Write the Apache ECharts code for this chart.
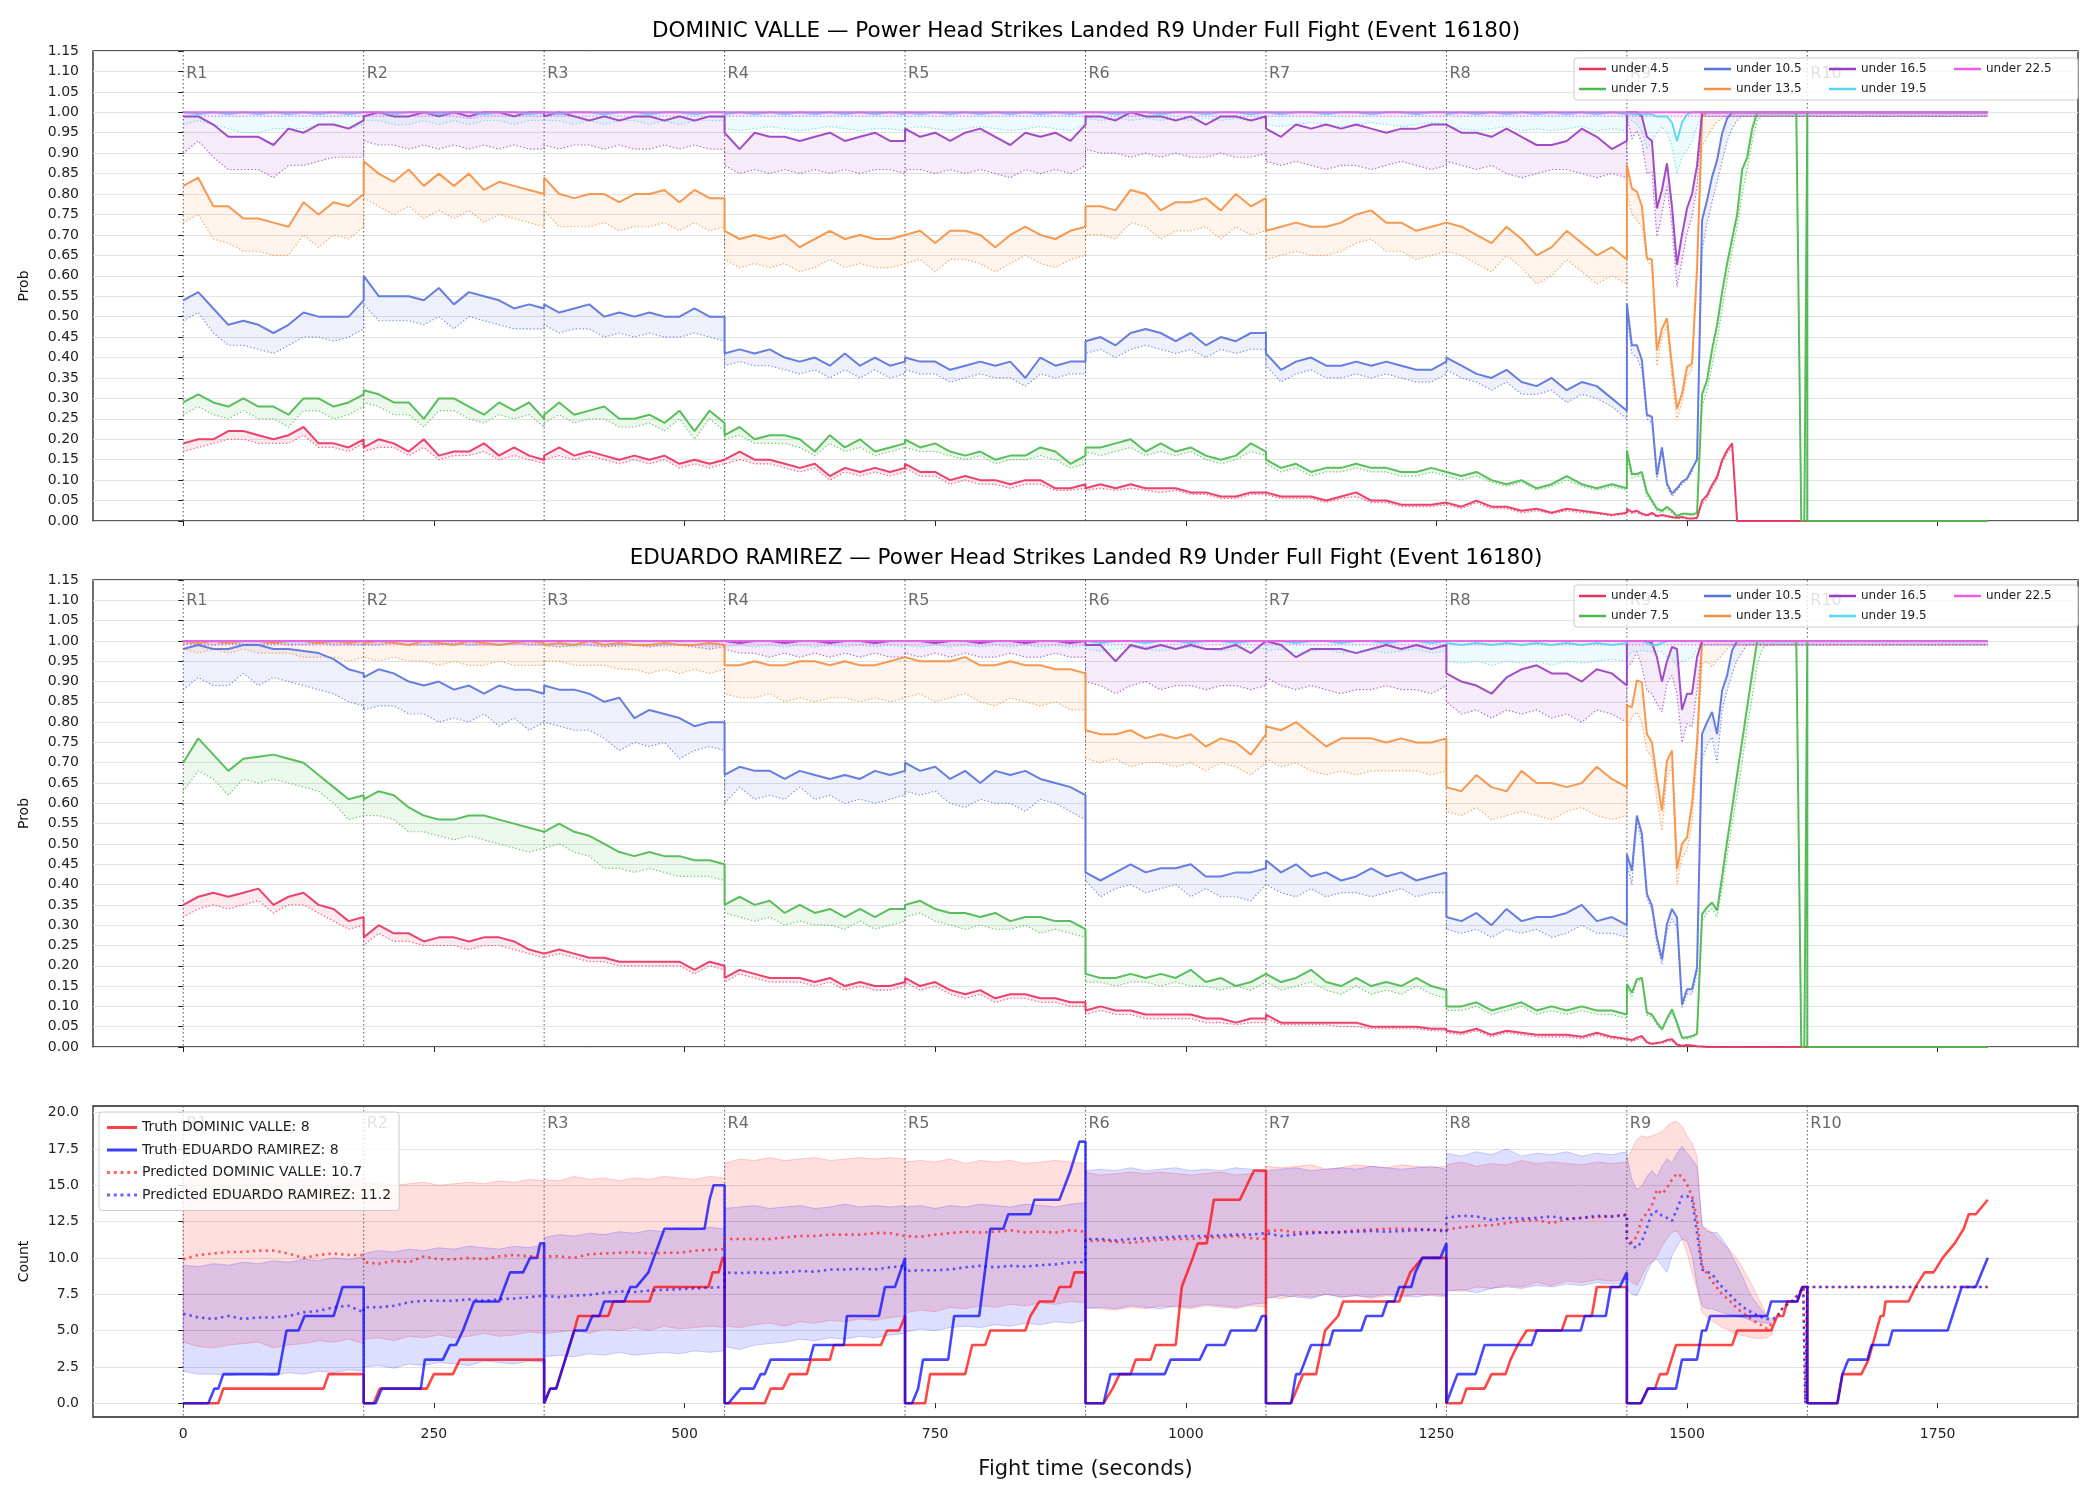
<!DOCTYPE html>
<html>
<head>
<meta charset="utf-8">
<title>Power Head Strikes Landed R9 Under Full Fight</title>
<script src="https://cdn.jsdelivr.net/npm/echarts@6.0.0/dist/echarts.min.js"></script>
<style>
  html, body { margin: 0; padding: 0; background: #fff; }
  #chart { width: 2100px; height: 1500px; }
</style>
</head>
<body>
<div id="chart"></div>
<script>
// ---- labels ----
const TITLE_DV = 'DOMINIC VALLE \u2014 Power Head Strikes Landed R9 Under Full Fight (Event 16180)';
const TITLE_ER = 'EDUARDO RAMIREZ \u2014 Power Head Strikes Landed R9 Under Full Fight (Event 16180)';
const THRESHOLDS = ['under 4.5', 'under 7.5', 'under 10.5', 'under 13.5', 'under 16.5', 'under 19.5', 'under 22.5'];
const COLORS = ['#e8335f', '#4cb84f', '#5a72dc', '#f59042', '#9a3dc0', '#55d6f2', '#f05be6'];
const ROUND_T = [0, 180, 360, 540, 720, 900, 1080, 1260, 1440, 1620];
const ROUND_LABELS = ['R1', 'R2', 'R3', 'R4', 'R5', 'R6', 'R7', 'R8', 'R9', 'R10'];
const X_TICKS = [0, 250, 500, 750, 1000, 1250, 1500, 1750];
const COUNT_TICKS = [0, 2.5, 5, 7.5, 10, 12.5, 15, 17.5, 20];

// sample times: rounds 1-8 every 15 s (round end repeated as next round start)
const T_MAIN = [];
for (let r = 0; r < 8; r++) {
  for (let k = 0; k <= 12; k++) T_MAIN.push(r * 180 + k * 15);
}
// round 9 / 10 sample times
const TAIL_T = [1440,1445,1450,1455,1460,1465,1470,1475,1480,1485,1490,1495,1500,1505,1510,1515,1520,1525,1530,1535,1540,1545,1550,1555,1560,1565,1570,1575,1580,1590,1600,1609,1614,1617,1620,1620,1800];
const PRED_TAIL_T = [1440,1445,1450,1455,1460,1465,1470,1475,1480,1485,1490,1495,1500,1505,1510,1515,1520,1525,1530,1535,1540,1545,1550,1555,1560,1565,1570,1575,1580,1585,1590,1595,1600,1605,1610,1616,1618,1620,1800];
const BAND_TAIL_T = [1440,1445,1450,1455,1460,1465,1470,1475,1480,1485,1490,1495,1500,1505,1510,1515,1520,1525,1530,1535,1540,1545,1550,1555,1560,1565,1570,1575,1580,1585];

// ---- DOMINIC VALLE probabilities (solid = line, _P = dotted) ----
const DV_U45 = [
.19,.20,.20,.22,.22,.21,.20,.21,.23,.19,.19,.18,.20,
.18,.20,.19,.17,.20,.16,.17,.17,.19,.16,.18,.16,.15,
.16,.18,.16,.17,.16,.15,.16,.15,.16,.14,.15,.14,.15,
.15,.17,.15,.15,.14,.13,.14,.11,.13,.12,.13,.12,.13,
.14,.12,.12,.10,.11,.10,.10,.09,.10,.10,.08,.08,.09,
.08,.09,.08,.09,.08,.08,.08,.07,.07,.06,.06,.07,.07,
.07,.06,.06,.06,.05,.06,.07,.05,.05,.04,.04,.04,.045,
.045,.035,.05,.035,.035,.025,.03,.02,.03,.025,.02,.015,.02];
const DV_U45_P = [
.17,.18,.19,.20,.20,.19,.19,.19,.21,.18,.18,.17,.19,
.17,.18,.18,.16,.18,.15,.16,.16,.17,.15,.16,.15,.14,
.15,.16,.15,.16,.15,.14,.15,.14,.15,.13,.14,.13,.14,
.14,.15,.14,.14,.13,.12,.13,.10,.12,.11,.12,.11,.12,
.13,.11,.11,.09,.10,.09,.09,.08,.09,.09,.075,.075,.08,
.075,.08,.075,.08,.075,.07,.075,.065,.065,.055,.055,.065,.065,
.065,.055,.055,.055,.045,.055,.06,.045,.045,.035,.035,.035,.04,
.04,.03,.045,.03,.03,.02,.025,.018,.025,.02,.018,.012,.018];
const DV_U75 = [
.29,.31,.29,.28,.30,.28,.28,.26,.30,.30,.28,.29,.31,
.32,.31,.29,.29,.25,.30,.30,.28,.26,.29,.27,.29,.25,
.26,.29,.26,.27,.28,.25,.25,.26,.24,.27,.22,.27,.24,
.21,.23,.20,.21,.21,.20,.17,.21,.18,.20,.17,.18,.19,
.20,.18,.19,.17,.16,.17,.15,.16,.16,.18,.17,.14,.16,
.18,.18,.19,.20,.17,.19,.17,.18,.16,.15,.16,.19,.17,
.15,.13,.14,.12,.13,.13,.14,.13,.13,.12,.12,.13,.12,
.12,.11,.12,.10,.09,.10,.08,.09,.11,.09,.08,.09,.08];
const DV_U75_P = [
.26,.28,.26,.25,.27,.25,.25,.23,.27,.27,.25,.26,.28,
.29,.28,.26,.26,.23,.27,.27,.25,.24,.26,.25,.26,.23,
.24,.26,.24,.25,.25,.23,.23,.24,.22,.25,.20,.25,.22,
.20,.21,.19,.19,.19,.18,.16,.19,.17,.18,.16,.17,.18,
.18,.17,.17,.16,.15,.16,.14,.15,.15,.16,.15,.13,.14,
.17,.16,.17,.18,.16,.17,.16,.17,.15,.14,.15,.17,.16,
.14,.12,.13,.11,.12,.12,.13,.12,.12,.11,.11,.12,.11,
.11,.10,.11,.095,.085,.095,.075,.085,.10,.085,.075,.085,.075];
const DV_U105 = [
.54,.56,.52,.48,.49,.48,.46,.48,.51,.50,.50,.50,.54,
.60,.55,.55,.55,.54,.57,.53,.56,.55,.54,.52,.53,.52,
.53,.51,.52,.53,.50,.51,.50,.51,.50,.50,.52,.50,.50,
.41,.42,.41,.42,.40,.39,.40,.38,.41,.38,.40,.38,.39,
.40,.39,.39,.37,.38,.39,.38,.39,.35,.40,.38,.39,.39,
.44,.45,.43,.46,.47,.46,.44,.46,.43,.45,.44,.46,.46,
.41,.37,.39,.40,.38,.38,.39,.38,.39,.38,.37,.37,.39,
.40,.38,.36,.35,.37,.34,.33,.35,.32,.34,.33,.30,.27];
const DV_U105_P = [
.49,.51,.46,.43,.43,.42,.41,.43,.45,.45,.44,.45,.47,
.53,.49,.49,.49,.48,.50,.47,.50,.49,.48,.47,.47,.47,
.48,.46,.47,.47,.45,.46,.45,.46,.45,.45,.46,.45,.44,
.38,.39,.38,.38,.37,.36,.37,.35,.37,.35,.37,.35,.36,
.37,.36,.36,.34,.35,.36,.35,.35,.33,.36,.35,.36,.36,
.41,.42,.40,.42,.43,.42,.41,.42,.40,.42,.41,.42,.42,
.38,.34,.36,.37,.35,.35,.36,.35,.36,.35,.34,.34,.36,
.37,.35,.34,.32,.34,.31,.31,.32,.29,.31,.30,.28,.25];
const DV_U135 = [
.82,.84,.77,.77,.74,.74,.73,.72,.78,.75,.78,.77,.80,
.88,.85,.83,.86,.82,.85,.82,.85,.81,.83,.82,.81,.80,
.84,.80,.79,.80,.80,.78,.80,.80,.81,.78,.81,.79,.79,
.71,.69,.70,.69,.70,.67,.69,.71,.69,.70,.69,.69,.70,
.70,.71,.68,.71,.71,.70,.67,.70,.72,.70,.69,.71,.72,
.77,.77,.76,.81,.80,.76,.78,.78,.79,.76,.80,.77,.79,
.71,.72,.73,.72,.72,.73,.75,.76,.73,.73,.71,.72,.73,
.73,.72,.70,.68,.72,.69,.65,.67,.71,.68,.65,.67,.64];
const DV_U135_P = [
.73,.75,.69,.68,.66,.66,.65,.65,.70,.67,.70,.69,.72,
.79,.77,.75,.77,.74,.76,.74,.76,.73,.75,.74,.73,.72,
.76,.72,.72,.72,.73,.71,.72,.72,.73,.71,.73,.71,.72,
.64,.62,.63,.62,.63,.61,.62,.64,.62,.63,.62,.62,.63,
.63,.64,.61,.64,.64,.63,.61,.63,.65,.63,.62,.64,.65,
.70,.70,.69,.73,.72,.69,.71,.71,.72,.69,.72,.70,.71,
.64,.65,.66,.65,.65,.66,.68,.69,.66,.66,.64,.65,.66,
.66,.65,.63,.61,.65,.62,.58,.60,.64,.61,.58,.60,.58];
const DV_U165 = [
.99,.99,.97,.94,.94,.94,.92,.96,.95,.97,.97,.96,.98,
.99,1,.99,.99,1,.99,1,.99,1,1,.99,1,1,
.99,1,.99,.98,.99,.98,.99,.99,.98,.99,.98,.99,.99,
.95,.91,.95,.94,.94,.93,.94,.95,.93,.94,.95,.93,.93,
.96,.94,.95,.93,.95,.96,.94,.92,.95,.94,.95,.93,.97,
.99,.99,.98,1,.99,.99,.98,.99,.97,.99,.99,.98,.99,
.96,.94,.97,.96,.97,.96,.97,.96,.95,.96,.96,.97,.97,
.97,.95,.95,.94,.96,.94,.92,.92,.93,.96,.94,.91,.93];
const DV_U165_P = [
.90,.93,.89,.86,.86,.86,.84,.87,.87,.88,.89,.89,.89,
.93,.92,.92,.91,.92,.91,.92,.91,.92,.91,.92,.91,.91,
.92,.91,.92,.92,.91,.92,.91,.91,.92,.91,.92,.91,.91,
.87,.85,.86,.85,.86,.85,.86,.85,.86,.85,.86,.86,.85,
.86,.86,.85,.86,.85,.86,.85,.84,.86,.85,.86,.85,.87,
.91,.90,.90,.89,.90,.89,.90,.89,.89,.90,.89,.89,.90,
.88,.87,.88,.87,.86,.87,.87,.86,.87,.88,.87,.86,.87,
.88,.87,.86,.87,.85,.84,.85,.86,.86,.85,.84,.85,.84];
const DV_U195 = [
1,.995,1,.995,1,.995,1,.995,1,.995,1,.995,1,
1,1,.995,1,1,.995,1,1,.995,1,1,.995,1,
1,.995,1,1,.995,1,1,.995,1,1,.995,1,1,
.995,1,.995,1,.995,1,.995,1,.995,1,.995,1,.995,
1,.995,1,.995,1,.995,1,.995,1,.995,1,.995,1,
1,1,.995,1,1,.995,1,1,.995,1,1,.995,1,
1,.995,1,1,.995,1,1,.995,1,1,.995,1,1,
.995,1,.995,1,.995,1,.995,1,.995,1,.995,1,.995];
const DV_U195_P = [
.97,.98,.97,.96,.95,.95,.96,.96,.96,.97,.97,.96,.97,
.98,.98,.97,.97,.98,.97,.98,.97,.98,.98,.97,.98,.98,
.98,.98,.97,.98,.97,.98,.98,.97,.98,.97,.98,.98,.98,
.96,.955,.96,.965,.96,.955,.96,.965,.96,.955,.96,.96,.955,
.96,.965,.96,.955,.96,.965,.96,.955,.96,.965,.96,.955,.97,
.985,.98,.985,.98,.985,.98,.985,.98,.985,.98,.985,.98,.985,
.97,.965,.97,.975,.97,.965,.97,.975,.97,.965,.97,.975,.97,
.965,.96,.955,.96,.965,.955,.96,.955,.96,.965,.955,.96,.955];
const DV_U225 = [
1,1,1,1,1,1,1,1,1,1,1,1,1,
1,1,1,1,1,1,1,1,1,1,1,1,1,
1,1,1,1,1,1,1,1,1,1,1,1,1,
1,1,1,1,1,1,1,1,1,1,1,1,1,
1,1,1,1,1,1,1,1,1,1,1,1,1,
1,1,1,1,1,1,1,1,1,1,1,1,1,
1,1,1,1,1,1,1,1,1,1,1,1,1,
1,1,1,1,1,1,1,1,1,1,1,1,1];
const DV_U225_P = [
.99,.99,.99,.99,.99,.99,.99,.99,.99,.99,.99,.99,.99,
.99,.99,.99,.99,.99,.99,.99,.985,.99,.99,.99,.99,.99,
.99,.99,.99,.99,.99,.99,.99,.99,.99,.99,.99,.99,.99,
.99,.99,.99,.99,.99,.99,.99,.99,.99,.99,.99,.99,.99,
.99,.99,.99,.99,.99,.99,.99,.99,.99,.99,.99,.99,.99,
.99,.99,.99,.99,.99,.99,.99,.99,.99,.99,.99,.99,.99,
.99,.99,.99,.99,.99,.99,.99,.99,.99,.99,.99,.99,.99,
.99,.99,.99,.99,.99,.99,.99,.99,.99,.99,.99,.99,.99];

// round 9-10 values (times in TAIL_T)
const DV_U45_T  = [.03,.022,.025,.018,.014,.02,.012,.015,.012,.01,.008,.01,.007,.006,.008,.05,.063,.088,.108,.149,.173,.19,0,0,0,0,0,0,0,0,0,0,0,0,0,0,0];
const DV_U45_PT = [.025,.018,.02,.015,.012,.015,.01,.012,.01,.008,.006,.008,.005,.005,.006,.04,.055,.08,.10,.14,.165,.18,0,0,0,0,0,0,0,0,0,0,0,0,0,0,0];
const DV_U75_T  = [.173,.115,.115,.12,.07,.05,.03,.025,.035,.025,.012,.018,.018,.016,.02,.31,.345,.42,.48,.56,.63,.69,.75,.86,.89,.96,1,1,1,1,1,1,0,0,1,0,0];
const DV_U75_PT = [.16,.105,.11,.11,.06,.045,.025,.02,.03,.02,.01,.015,.015,.014,.017,.28,.32,.38,.44,.52,.59,.66,.72,.80,.86,.93,.98,.99,.99,.99,.99,.99,0,0,.99,0,0];
const DV_U105_T  = [.532,.43,.43,.394,.26,.255,.112,.18,.092,.067,.08,.096,.104,.128,.15,.736,.785,.842,.883,.948,.985,1,1,1,1,1,1,1,1,1,1,1,1,1,1,1,1];
const DV_U105_PT = [.508,.41,.40,.37,.25,.24,.10,.17,.085,.06,.075,.09,.10,.12,.16,.66,.73,.78,.83,.88,.93,.96,.98,.99,.99,.99,.99,.99,.99,.99,.99,.99,.99,.99,.99,.99,.99];
const DV_U135_T  = [.871,.814,.806,.77,.643,.64,.418,.47,.496,.381,.275,.312,.377,.385,.62,.99,1,1,1,1,1,1,1,1,1,1,1,1,1,1,1,1,1,1,1,1,1];
const DV_U135_PT = [.806,.75,.736,.72,.64,.62,.38,.45,.476,.345,.247,.29,.354,.37,.60,.916,.94,.96,.977,.985,.99,.99,.99,.99,.99,.99,.99,.99,.99,.99,.99,.99,.99,.99,.99,.99,.99];
const DV_U165_T  = [1,1,1,.99,.94,.93,.765,.81,.875,.77,.627,.70,.765,.80,.87,1,1,1,1,1,1,1,1,1,1,1,1,1,1,1,1,1,1,1,1,1,1];
const DV_U165_PT = [.99,.935,.955,.925,.85,.855,.696,.753,.818,.72,.573,.638,.704,.745,.818,.99,.99,.99,.99,.99,.99,.99,.99,.99,.99,.99,.99,.99,.99,.99,.99,.99,.99,.99,.99,.99,.99];
const DV_U195_T  = [1,.995,.995,.995,.995,.995,.99,.99,.99,.975,.93,.975,.995,1,1,1,1,1,1,1,1,1,1,1,1,1,1,1,1,1,1,1,1,1,1,1,1];
const DV_U195_PT = [.985,.98,.97,.953,.91,.93,.95,.965,.95,.916,.85,.89,.908,.928,.965,.99,.99,.99,.99,.99,.99,.99,.99,.99,.99,.99,.99,.99,.99,.99,.99,.99,.99,.99,.99,.99,.99];
const DV_U225_T  = [1,1,1,1,1,1,1,1,1,1,1,1,1,1,1,1,1,1,1,1,1,1,1,1,1,1,1,1,1,1,1,1,1,1,1,1,1];
const DV_U225_PT = [.99,.99,.99,.99,.99,.99,.99,.99,.99,.99,.99,.99,.99,.99,.99,.99,.99,.99,.99,.99,.99,.99,.99,.99,.99,.99,.99,.99,.99,.99,.99,.99,.99,.99,.99,.99,.99];

// ---- EDUARDO RAMIREZ probabilities ----
const ER_U45 = [
.35,.37,.38,.37,.38,.39,.35,.37,.38,.35,.34,.31,.32,
.27,.30,.28,.28,.26,.27,.27,.26,.27,.27,.26,.24,.23,
.23,.24,.23,.22,.22,.21,.21,.21,.21,.21,.19,.21,.20,
.17,.19,.18,.17,.17,.17,.16,.17,.15,.16,.15,.15,.16,
.17,.15,.16,.14,.13,.14,.12,.13,.13,.12,.12,.11,.11,
.09,.10,.09,.09,.08,.08,.08,.08,.07,.07,.06,.07,.07,
.08,.06,.06,.06,.06,.06,.06,.05,.05,.05,.05,.045,.045,
.04,.035,.045,.03,.04,.035,.03,.03,.03,.025,.035,.025,.02];
const ER_U45_P = [
.32,.34,.35,.34,.35,.36,.33,.35,.35,.33,.31,.29,.30,
.25,.28,.26,.26,.25,.25,.25,.24,.25,.25,.24,.23,.22,
.22,.23,.22,.21,.21,.20,.20,.20,.20,.20,.18,.20,.19,
.16,.18,.17,.16,.16,.16,.15,.16,.14,.15,.14,.14,.15,
.16,.14,.15,.13,.12,.13,.11,.12,.12,.11,.11,.10,.10,
.08,.09,.08,.08,.07,.07,.07,.07,.06,.06,.055,.06,.06,
.07,.055,.055,.055,.055,.05,.05,.045,.045,.045,.045,.04,.04,
.035,.03,.04,.025,.035,.03,.025,.025,.025,.02,.03,.02,.018];
const ER_U75 = [
.70,.76,.72,.68,.71,.715,.72,.71,.70,.67,.64,.61,.62,
.61,.63,.62,.59,.57,.56,.56,.57,.57,.56,.55,.54,.53,
.53,.55,.53,.52,.50,.48,.47,.48,.47,.47,.46,.46,.45,
.35,.37,.35,.36,.33,.35,.33,.34,.32,.34,.32,.34,.34,
.35,.36,.34,.33,.33,.32,.33,.31,.32,.32,.31,.31,.29,
.18,.17,.17,.18,.17,.18,.17,.19,.16,.17,.15,.16,.18,
.18,.16,.17,.19,.16,.15,.17,.15,.16,.15,.17,.15,.14,
.10,.10,.11,.09,.10,.11,.09,.10,.09,.10,.09,.09,.08];
const ER_U75_P = [
.63,.68,.66,.62,.66,.65,.66,.65,.64,.63,.60,.56,.57,
.57,.57,.56,.53,.53,.52,.51,.52,.51,.50,.49,.48,.49,
.49,.50,.48,.47,.44,.44,.43,.44,.43,.42,.42,.42,.41,
.33,.32,.31,.32,.30,.31,.30,.30,.29,.31,.29,.30,.31,
.32,.33,.31,.30,.29,.30,.29,.29,.30,.28,.29,.28,.27,
.16,.16,.15,.16,.16,.15,.16,.15,.15,.14,.15,.14,.16,
.16,.14,.15,.16,.14,.13,.15,.13,.14,.13,.15,.13,.12,
.09,.09,.10,.08,.09,.10,.08,.09,.08,.09,.08,.08,.07];
const ER_U105 = [
.98,.99,.98,.98,.99,.99,.98,.98,.975,.97,.955,.93,.92,
.91,.93,.92,.90,.89,.90,.88,.89,.87,.89,.88,.88,.87,
.89,.88,.88,.87,.85,.86,.81,.83,.82,.81,.79,.80,.80,
.67,.69,.68,.68,.66,.68,.67,.66,.67,.66,.68,.67,.68,
.70,.68,.69,.66,.68,.65,.68,.67,.68,.66,.65,.64,.62,
.43,.41,.43,.45,.43,.44,.44,.45,.42,.42,.43,.43,.44,
.46,.43,.45,.42,.43,.41,.42,.44,.42,.43,.41,.42,.43,
.32,.31,.33,.30,.34,.31,.32,.32,.33,.35,.31,.32,.30];
const ER_U105_P = [
.88,.91,.89,.89,.92,.89,.91,.90,.89,.88,.87,.85,.84,
.83,.84,.84,.82,.82,.80,.81,.80,.82,.79,.81,.78,.80,
.80,.79,.78,.78,.76,.73,.75,.74,.75,.71,.73,.74,.73,
.60,.64,.61,.62,.61,.64,.61,.62,.60,.61,.60,.61,.62,
.63,.62,.63,.60,.59,.61,.60,.60,.58,.61,.60,.58,.56,
.41,.37,.39,.40,.38,.39,.40,.37,.39,.37,.37,.36,.40,
.40,.38,.37,.39,.37,.38,.38,.37,.38,.39,.37,.38,.38,
.29,.28,.29,.27,.29,.28,.29,.27,.28,.30,.28,.28,.27];
const ER_U135 = [
1,.995,1,.995,1,1,.995,1,1,.995,1,.995,1,
.995,1,.995,.99,1,.995,.99,1,.995,.99,.995,1,.995,
.99,.995,.99,1,.99,.995,.99,.99,.995,.99,.99,.995,.99,
.94,.94,.95,.94,.94,.95,.95,.94,.95,.94,.94,.95,.96,
.96,.95,.95,.95,.96,.94,.94,.95,.94,.94,.93,.93,.92,
.78,.77,.77,.78,.76,.77,.76,.77,.74,.76,.75,.72,.77,
.79,.78,.80,.77,.74,.76,.76,.76,.75,.76,.75,.75,.76,
.64,.63,.67,.64,.63,.68,.65,.65,.64,.65,.69,.66,.64];
const ER_U135_P = [
.98,.97,.98,.97,.98,.97,.97,.97,.96,.96,.96,.95,.96,
.96,.95,.96,.95,.95,.94,.95,.94,.94,.95,.94,.94,.94,
.95,.95,.94,.94,.94,.93,.93,.92,.93,.92,.93,.92,.93,
.87,.86,.86,.87,.85,.86,.85,.86,.86,.85,.86,.85,.86,
.86,.87,.85,.86,.87,.85,.84,.86,.85,.84,.85,.83,.83,
.71,.70,.71,.69,.70,.70,.69,.70,.68,.70,.69,.67,.70,
.71,.69,.70,.68,.67,.68,.67,.68,.68,.68,.68,.67,.68,
.58,.57,.59,.56,.57,.58,.57,.56,.58,.59,.57,.56,.57];
const ER_U165 = [
1,1,1,1,1,1,1,1,1,1,1,1,1,
1,1,1,1,1,1,1,1,1,1,1,1,1,
1,1,1,1,1,1,1,1,1,1,1,1,1,
1,.995,1,1,.995,1,1,.995,1,1,.995,1,1,
1,1,.995,1,1,.995,1,1,.995,1,1,.995,1,
.99,.99,.95,.99,.98,.99,.98,.99,.98,.98,.99,.97,1,
1,.99,.96,.98,.98,.98,.97,.98,.99,.98,.99,.98,.99,
.92,.90,.89,.87,.91,.93,.94,.92,.92,.90,.93,.92,.89];
const ER_U165_P = [
.995,.99,.99,.995,.99,.99,.995,.99,.99,.995,.99,.99,.99,
.99,.99,.995,.99,.99,.99,.995,.99,.99,.99,.995,.99,.99,
.99,.985,.99,.99,.985,.99,.99,.985,.99,.99,.985,.98,.985,
.98,.97,.97,.96,.97,.96,.97,.96,.97,.96,.97,.96,.96,
.97,.96,.97,.96,.97,.96,.96,.97,.96,.96,.97,.96,.96,
.90,.89,.87,.89,.90,.88,.89,.89,.88,.89,.89,.88,.89,
.91,.89,.88,.89,.88,.87,.88,.88,.89,.88,.88,.87,.89,
.85,.82,.83,.81,.83,.82,.83,.81,.82,.80,.83,.82,.80];
const ER_U195 = [
1,1,1,1,1,1,1,1,1,1,1,1,1,
1,1,1,1,1,1,1,1,1,1,1,1,1,
1,1,1,1,1,1,1,1,1,1,1,1,1,
1,1,1,1,1,1,1,1,1,1,1,1,1,
1,1,1,1,1,1,1,1,1,1,1,1,1,
1,.995,1,1,.995,1,1,.995,1,1,.995,1,1,
1,1,.995,1,1,.995,1,1,.995,1,1,.995,1,
.995,.99,.995,.99,.995,.99,.995,.99,.995,.99,.995,.99,.995];
const ER_U195_P = [
.99,.995,.99,.99,.995,.99,.99,.995,.99,.99,.995,.99,.99,
.99,.99,.995,.99,.99,.995,.99,.99,.995,.99,.99,.995,.99,
.99,.99,.985,.99,.99,.985,.99,.99,.985,.99,.99,.985,.99,
.985,.99,.985,.99,.985,.99,.985,.99,.985,.99,.985,.99,.985,
.99,.985,.99,.985,.99,.985,.99,.985,.99,.985,.99,.985,.99,
.98,.975,.98,.985,.98,.975,.98,.985,.98,.975,.98,.985,.98,
.975,.98,.97,.975,.98,.97,.975,.98,.97,.975,.98,.97,.975,
.95,.945,.95,.94,.95,.945,.95,.94,.95,.945,.95,.955,.95];
const ER_U225 = DV_U225;
const ER_U225_P = [
.99,.99,.99,.99,.99,.99,.99,.99,.99,.99,.99,.99,.99,
.99,.99,.99,.99,.99,.99,.99,.99,.99,.99,.99,.99,.99,
.99,.99,.99,.99,.99,.99,.99,.99,.99,.99,.99,.99,.99,
.99,.99,.99,.99,.99,.99,.99,.99,.99,.99,.99,.99,.99,
.99,.99,.99,.99,.99,.99,.99,.99,.99,.99,.99,.99,.99,
.99,.99,.99,.99,.985,.99,.99,.99,.99,.99,.99,.99,.99,
.99,.99,.99,.99,.99,.99,.99,.99,.99,.99,.99,.99,.99,
.99,.99,.99,.99,.99,.99,.99,.99,.99,.99,.99,.99,.99];

const ER_U45_T  = [.02,.017,.023,.027,.012,.008,.01,.012,.017,.019,.006,.003,.005,.004,.002,.001,0,0,0,0,0,0,0,0,0,0,0,0,0,0,0,0,0,0,0,0,0];
const ER_U45_PT = [.015,.013,.018,.022,.009,.006,.008,.009,.013,.015,.004,.002,.003,.003,.001,0,0,0,0,0,0,0,0,0,0,0,0,0,0,0,0,0,0,0,0,0,0];
const ER_U75_T  = [.155,.134,.167,.17,.085,.08,.06,.044,.07,.093,.06,.023,.024,.027,.033,.327,.344,.356,.336,.42,.507,.589,.672,.754,.837,.92,1,1,1,1,1,1,0,0,1,0,0];
const ER_U75_PT = [.145,.125,.16,.165,.078,.075,.055,.04,.065,.085,.055,.02,.02,.022,.03,.31,.33,.34,.32,.39,.47,.55,.62,.70,.79,.86,.94,.98,.99,.99,.99,.99,0,0,.99,0,0];
const ER_U105_T  = [.475,.434,.57,.525,.377,.348,.27,.216,.303,.34,.319,.105,.142,.142,.196,.771,.80,.825,.771,.878,.915,.977,1,1,1,1,1,1,1,1,1,1,1,1,1,1,1];
const ER_U105_PT = [.45,.40,.557,.50,.368,.336,.253,.204,.286,.315,.294,.097,.13,.13,.18,.706,.743,.763,.70,.829,.878,.92,.952,.973,.99,.99,.99,.99,.99,.99,.99,.99,.99,.99,.99,.99,.99];
const ER_U135_T  = [.841,.837,.903,.898,.771,.75,.66,.582,.705,.73,.438,.50,.516,.599,.75,1,1,1,1,1,1,1,1,1,1,1,1,1,1,1,1,1,1,1,1,1,1];
const ER_U135_PT = [.78,.812,.825,.796,.73,.714,.607,.533,.664,.69,.40,.467,.484,.55,.714,.944,.948,.936,.952,.965,.98,.99,.99,.99,.99,.99,.99,.99,.99,.99,.99,.99,.99,.99,.99,.99,.99];
const ER_U165_T  = [1,1,1,1,1,.995,.96,.90,.95,.985,.98,.83,.87,.87,.96,1,1,1,1,1,1,1,1,1,1,1,1,1,1,1,1,1,1,1,1,1,1];
const ER_U165_PT = [.932,.948,.973,.936,.878,.87,.845,.825,.895,.915,.87,.75,.796,.788,.878,.99,.99,.99,.99,.99,.99,.99,.99,.99,.99,.99,.99,.99,.99,.99,.99,.99,.99,.99,.99,.99,.99];
const ER_U195_T  = [1,1,1,1,.995,.99,.99,.995,1,1,1,1,1,1,1,1,1,1,1,1,1,1,1,1,1,1,1,1,1,1,1,1,1,1,1,1,1];
const ER_U195_PT = [.96,.973,.975,.977,.975,.973,.975,.973,.96,.955,.94,.95,.955,.96,.98,.99,.99,.99,.99,.99,.99,.99,.99,.99,.99,.99,.99,.99,.99,.99,.99,.99,.99,.99,.99,.99,.99];
const ER_U225_T  = DV_U225_T;
const ER_U225_PT = DV_U225_PT;

// ---- counts (bottom panel) ----
// truth: [seconds, strikes landed in the round]
const TRUTH_DV = [
[0,0],[35,0],[40,1],[140,1],[145,2],[180,2],
[180,0],[190,0],[196,1],[243,1],[250,2],[269,2],[276,3],[360,3],
[360,0],[366,1],[372,1],[390,5],[394,6],[424,6],[429,7],[465,7],[470,8],[524,8],[528,9],[534,9],[538,10],[540,10],
[540,0],[580,0],[586,1],[598,1],[605,2],[622,2],[626,3],[645,3],[649,4],[696,4],[702,5],[714,5],[720,6],
[720,0],[740,0],[745,2],[780,2],[787,4],[800,4],[805,5],[840,5],[845,6],[854,7],[868,7],[874,8],[885,8],[889,9],[900,9],
[900,0],[918,0],[927,1],[934,2],[945,2],[950,3],[965,3],[970,4],[990,4],[996,8],[1007,10],[1012,11],[1021,11],[1028,14],[1054,14],[1061,15],[1068,16],[1080,16],
[1080,0],[1105,0],[1117,2],[1130,2],[1139,5],[1152,6],[1157,7],[1213,7],[1218,8],[1224,9],[1236,10],[1260,10],
[1260,0],[1275,0],[1280,1],[1298,1],[1305,2],[1319,2],[1324,3],[1331,4],[1340,5],[1375,5],[1380,6],[1405,6],[1410,8],[1440,8],
[1440,0],[1454,0],[1461,1],[1468,1],[1473,2],[1480,2],[1489,4],[1545,4],[1550,5],[1584,5],[1590,6],[1596,6],[1600,7],[1610,7],[1615,8],[1620,8],
[1620,0],[1650,0],[1655,2],[1674,2],[1681,3],[1689,5],[1693,6],[1696,6],[1698,7],[1721,7],[1728,8],[1737,9],[1746,9],[1755,10],[1767,11],[1776,12],[1781,13],[1788,13],[1800,14]];
const TRUTH_ER = [
[0,0],[25,0],[31,1],[35,1],[40,2],[95,2],[103,5],[115,5],[121,6],[150,6],[159,8],[180,8],
[180,0],[192,0],[198,1],[237,1],[241,3],[259,3],[266,4],[272,4],[279,5],[290,7],[315,7],[326,9],[339,9],[346,10],[353,10],[356,11],[360,11],
[360,0],[366,1],[372,1],[390,5],[402,5],[408,6],[415,6],[420,7],[440,7],[446,8],[452,8],[464,9],[480,12],[520,12],[525,14],[529,15],[540,15],
[540,0],[544,0],[556,1],[569,1],[576,2],[580,2],[586,3],[625,3],[629,4],[659,4],[662,6],[694,6],[700,8],[710,8],[720,10],
[720,0],[727,0],[733,1],[738,3],[763,3],[769,6],[794,6],[805,12],[818,12],[823,13],[845,13],[849,14],[874,14],[885,16],[894,18],[900,18],
[900,0],[918,0],[925,2],[979,2],[985,3],[1014,3],[1021,4],[1039,4],[1045,5],[1070,5],[1076,6],[1080,6],
[1080,0],[1105,0],[1110,2],[1114,2],[1125,4],[1143,4],[1147,5],[1175,5],[1180,6],[1196,6],[1201,7],[1208,7],[1213,8],[1225,8],[1229,9],[1236,10],[1254,10],[1260,11],
[1260,0],[1271,2],[1289,2],[1298,4],[1345,4],[1350,5],[1394,5],[1398,6],[1419,6],[1424,8],[1433,8],[1440,9],
[1440,0],[1454,0],[1461,1],[1489,1],[1495,3],[1510,3],[1515,5],[1519,5],[1523,6],[1580,6],[1584,7],[1610,7],[1615,8],[1620,8],
[1620,0],[1650,0],[1655,2],[1661,3],[1680,3],[1684,4],[1701,4],[1705,5],[1760,5],[1774,8],[1788,8],[1800,10]];

// predicted counts (T_MAIN, then PRED_TAIL_T)
const PRED_DV = [
9.9,10.2,10.3,10.4,10.4,10.5,10.5,10.3,10.0,10.2,10.3,10.2,10.2,
9.7,9.6,9.8,9.7,10.1,9.9,9.9,10.0,9.9,10.1,10.2,10.1,10.1,
10.1,10.1,10.0,10.25,10.3,10.35,10.4,10.3,10.35,10.35,10.5,10.55,10.6,
11.3,11.3,11.3,11.3,11.4,11.5,11.5,11.6,11.6,11.6,11.7,11.7,11.5,
11.4,11.45,11.6,11.7,11.8,11.75,11.8,11.9,11.75,11.8,11.75,11.9,11.8,
11.15,11.2,11.1,11.05,11.15,11.25,11.3,11.3,11.4,11.4,11.5,11.35,11.3,
11.85,11.9,11.75,11.8,11.75,11.8,11.9,11.95,12.0,12.0,12.0,11.9,11.95,
11.95,12.1,12.2,12.25,12.4,12.55,12.6,12.4,12.65,12.75,12.8,12.85,13.0];
const PRED_ER = [
6.15,5.9,5.8,6.0,5.8,5.9,5.9,6.0,6.25,6.35,6.6,6.7,6.25,
6.6,6.6,6.7,6.95,7.05,7.05,7.05,7.15,7.05,7.15,7.2,7.3,7.4,
7.4,7.3,7.4,7.45,7.6,7.7,7.65,7.75,7.8,7.85,7.9,7.95,8.0,
9.0,8.95,9.0,8.95,9.0,9.1,9.05,9.2,9.2,9.25,9.2,9.35,9.45,
9.1,9.15,9.15,9.2,9.35,9.45,9.35,9.45,9.4,9.5,9.55,9.7,9.7,
11.3,11.3,11.2,11.3,11.35,11.4,11.45,11.5,11.5,11.55,11.6,11.6,11.7,
11.6,11.5,11.6,11.7,11.75,11.75,11.8,11.85,11.8,11.85,11.9,11.95,11.8,
12.75,12.9,12.85,12.6,12.75,12.7,12.75,12.85,12.7,12.75,12.9,12.85,12.95];
const PRED_DV_T = [11.3,11.05,11.5,12.65,13.1,13.6,14.7,14.4,14.8,15.4,15.8,15.6,15.05,14.25,12.65,9.45,8.9,8.4,7.95,7.5,7.2,6.9,6.5,6.25,6.0,5.75,5.5,5.35,5.1,5.55,6.0,6.5,6.8,7.05,7.4,7.95,0,8,8];
const PRED_ER_T = [11.3,10.8,10.7,11.15,12.1,13.1,13.2,12.9,12.75,12.55,13.35,14.25,14.25,14.0,11.75,9.2,9.05,8.9,8.4,8.0,7.65,7.3,6.95,6.7,6.4,6.25,6.05,5.9,5.8,5.8,6.0,6.5,6.8,7.05,7.4,7.95,0,8,8];

// prediction bands (T_MAIN, then BAND_TAIL_T)
const BAND_DV_HI = [
15.6,15.8,15.7,15.6,15.5,15.4,15.6,15.5,15.3,15.5,15.4,15.5,15.3,
15.1,15.2,15.0,15.1,15.2,15.0,15.1,15.2,15.1,15.3,15.2,15.4,15.3,
15.4,15.3,15.6,15.4,15.5,15.3,15.5,15.4,15.6,15.5,15.4,15.6,15.5,
16.5,16.8,16.7,16.9,16.7,16.8,16.9,16.7,16.8,16.9,16.8,16.9,16.8,
16.6,16.7,16.6,16.8,16.5,16.7,16.6,16.7,16.5,16.6,16.7,16.6,16.5,
15.9,15.7,15.8,15.9,15.8,15.9,15.8,15.7,15.8,15.9,15.7,15.8,15.9,
16.3,16.2,16.3,16.4,16.1,16.2,16.4,16.3,16.2,16.4,16.3,16.2,16.3,
16.4,16.6,16.3,16.5,16.4,16.7,16.5,16.6,16.5,16.4,16.6,16.5,16.6];
const BAND_DV_LO = [
4.2,3.9,3.8,4.0,4.1,4.2,3.8,4.0,4.1,4.3,4.2,4.4,4.1,
4.4,4.5,4.3,4.6,4.5,4.7,4.5,4.6,4.8,4.6,4.7,4.9,4.8,
4.8,4.9,5.0,4.8,5.1,5.0,5.2,5.0,5.3,5.1,5.2,5.3,5.2,
5.3,5.2,5.4,5.5,5.3,5.6,5.5,5.7,5.6,5.8,5.7,5.9,6.0,
6.2,6.4,6.3,6.6,6.5,6.7,6.6,6.8,6.7,6.9,6.8,7.0,6.9,
6.6,6.5,6.4,6.6,6.5,6.7,6.6,6.5,6.7,6.6,6.5,6.7,6.6,
7.3,7.2,7.4,7.3,7.5,7.3,7.4,7.2,7.4,7.3,7.5,7.4,7.3,
7.8,7.7,8.0,7.9,8.1,8.0,8.3,8.1,8.4,8.3,8.5,8.4,8.5];
const BAND_ER_HI = [
9.5,9.4,9.6,9.5,9.7,9.6,9.8,9.7,9.9,9.8,10.0,9.9,10.1,
10.3,10.5,10.4,10.6,10.5,10.7,10.6,10.8,10.7,10.6,10.8,10.7,10.9,
11.4,11.6,11.5,11.7,11.6,11.8,11.7,11.9,11.8,12.0,11.9,12.1,12.0,
13.4,13.5,13.6,13.4,13.5,13.6,13.4,13.5,13.7,13.5,13.6,13.5,13.6,
13.5,13.6,13.4,13.6,13.5,13.7,13.6,13.5,13.7,13.6,13.5,13.7,13.8,
16.0,16.1,16.0,16.2,16.0,16.1,16.2,16.0,16.1,16.0,16.2,16.1,16.0,
16.0,16.1,16.2,16.0,16.1,16.2,16.1,16.3,16.2,16.1,16.2,16.3,16.1,
17.2,17.0,17.3,17.1,17.5,17.0,17.2,17.1,17.3,17.0,17.2,17.1,17.3];
const BAND_ER_LO = [
2.2,2.0,2.0,1.9,2.0,2.0,1.9,2.1,2.0,2.2,2.1,2.3,2.2,
2.5,2.6,2.4,2.7,2.6,2.8,2.7,2.6,2.9,2.8,2.7,2.9,2.8,
3.2,3.3,3.2,3.4,3.3,3.5,3.3,3.4,3.5,3.4,3.6,3.5,3.6,
3.9,3.7,4.0,4.1,4.2,4.4,4.3,4.5,4.4,4.6,4.5,4.7,4.8,
4.9,5.1,5.0,5.2,5.3,5.2,5.4,5.3,5.5,5.4,5.6,5.5,5.7,
6.5,6.6,6.5,6.7,6.6,6.5,6.7,6.6,6.8,6.7,6.6,6.8,6.9,
7.2,7.4,7.3,7.2,7.5,7.3,7.4,7.3,7.5,7.4,7.3,7.5,7.4,
7.7,7.8,7.6,7.9,8.0,7.9,8.1,8.0,8.2,8.1,8.3,8.2,8.3];
const BAND_DV_HI_T = [16.8,17.45,18.15,18.4,18.3,18.4,18.5,18.7,19.05,19.3,19.4,19.05,18.4,17.9,17.0,12.2,12.0,11.75,11.4,11.05,10.7,10.35,9.9,9.35,8.75,8.1,7.4,6.7,6.0,5.35];
const BAND_DV_LO_T = [8.55,8.3,8.1,8.75,9.45,9.7,10.1,10.8,11.3,11.75,11.85,11.3,10.35,9.0,7.85,6.25,5.9,5.65,5.45,5.2,5.1,4.85,4.75,4.65,4.6,4.5,4.45,4.45,4.5,4.75];
const BAND_ER_HI_T = [17.0,15.4,14.7,14.95,15.6,16.0,15.6,16.3,16.8,16.55,17.2,17.7,17.2,16.8,16.3,12.2,11.85,11.75,11.75,11.3,10.8,10.1,9.45,8.75,7.95,7.3,6.8,6.35,6.0,5.8];
const BAND_ER_LO_T = [7.85,7.5,7.4,8.1,9.0,9.7,9.9,9.45,9.0,10.15,10.8,11.3,11.15,10.15,8.1,6.7,6.5,6.5,6.35,6.25,6.15,6.05,6.0,5.9,5.8,5.65,5.6,5.55,5.5,5.5];

// ---- helpers ----
const FONT = 'DejaVu Sans';
const DOTS_ICON = 'path://M0,0h3v3h-3z M6.75,0h3v3h-3z M13.5,0h3v3h-3z M20.25,0h3v3h-3z M27,0h3v3h-3z';

function withTimes(times, vals) {
  return times.map((t, i) => [t, vals[i]]);
}
function joinPts(main, tail, tailT) {
  return withTimes(T_MAIN, main).concat(withTimes(tailT, tail));
}
function rgba(hex, a) {
  const n = parseInt(hex.slice(1), 16);
  return 'rgba(' + (n >> 16) + ',' + ((n >> 8) & 255) + ',' + (n & 255) + ',' + a + ')';
}

// filled area between two lines, drawn through the axis scales
function bandSeries(upper, lower, fill, stroke, gi, z) {
  return {
    type: 'custom', xAxisIndex: gi, yAxisIndex: gi, z: z, silent: true, clip: true,
    data: [[upper[0][0], upper[0][1]]],
    renderItem: function (params, api) {
      const pts = upper.map(p => api.coord(p))
        .concat(lower.slice().reverse().map(p => api.coord(p)));
      return {
        type: 'polygon',
        shape: { points: pts },
        style: { fill: fill, stroke: stroke || null, lineWidth: stroke ? 1 : 0 }
      };
    }
  };
}

// dotted round separators with R1..R10 labels
function roundSeries(gi, labelOffset) {
  return {
    type: 'custom', xAxisIndex: gi, yAxisIndex: gi, z: 1, silent: true,
    data: ROUND_T.map(t => [t, gi === 2 ? 0 : 0.5]),
    renderItem: function (params, api) {
      const cs = params.coordSys;
      const x = api.coord([api.value(0), api.value(1)])[0];
      return {
        type: 'group',
        children: [
          { type: 'line', shape: { x1: x, y1: cs.y, x2: x, y2: cs.y + cs.height },
            style: { stroke: '#555', lineWidth: 1, lineDash: [1.5, 2.5] } },
          { type: 'text', x: x + 3, y: cs.y + labelOffset,
            style: { text: ROUND_LABELS[params.dataIndex], fill: '#6a6a6a', fontSize: 16,
                     fontFamily: FONT, align: 'left', verticalAlign: 'middle' } }
        ]
      };
    }
  };
}

const PANELS = [
  { solid: [DV_U45, DV_U75, DV_U105, DV_U135, DV_U165, DV_U195, DV_U225],
    pred: [DV_U45_P, DV_U75_P, DV_U105_P, DV_U135_P, DV_U165_P, DV_U195_P, DV_U225_P],
    solidTail: [DV_U45_T, DV_U75_T, DV_U105_T, DV_U135_T, DV_U165_T, DV_U195_T, DV_U225_T],
    predTail: [DV_U45_PT, DV_U75_PT, DV_U105_PT, DV_U135_PT, DV_U165_PT, DV_U195_PT, DV_U225_PT] },
  { solid: [ER_U45, ER_U75, ER_U105, ER_U135, ER_U165, ER_U195, ER_U225],
    pred: [ER_U45_P, ER_U75_P, ER_U105_P, ER_U135_P, ER_U165_P, ER_U195_P, ER_U225_P],
    solidTail: [ER_U45_T, ER_U75_T, ER_U105_T, ER_U135_T, ER_U165_T, ER_U195_T, ER_U225_T],
    predTail: [ER_U45_PT, ER_U75_PT, ER_U105_PT, ER_U135_PT, ER_U165_PT, ER_U195_PT, ER_U225_PT] }
];

const series = [];
PANELS.forEach((p, gi) => {
  THRESHOLDS.forEach((name, j) => {
    const s = joinPts(p.solid[j], p.solidTail[j], TAIL_T);
    const q = joinPts(p.pred[j], p.predTail[j], TAIL_T);
    series.push(bandSeries(s, q, rgba(COLORS[j], 0.1), null, gi, 1));
    series.push({
      type: 'line', name: name + ' pred', xAxisIndex: gi, yAxisIndex: gi, data: q,
      symbol: 'none', silent: true, z: 2, color: COLORS[j],
      lineStyle: { color: COLORS[j], width: 1.2, type: [1.3, 2.2], opacity: 0.8 }
    });
    series.push({
      type: 'line', name: name, xAxisIndex: gi, yAxisIndex: gi, data: s,
      symbol: 'none', silent: true, z: 3, color: COLORS[j],
      lineStyle: { color: COLORS[j], width: 2, opacity: 0.92 }
    });
  });
  series.push(roundSeries(gi, gi === 0 ? 23 : 21));
});

// bottom panel
const NAME_T_DV = 'Truth DOMINIC VALLE: 8';
const NAME_T_ER = 'Truth EDUARDO RAMIREZ: 8';
const NAME_P_DV = 'Predicted DOMINIC VALLE: 10.7';
const NAME_P_ER = 'Predicted EDUARDO RAMIREZ: 11.2';
series.push(bandSeries(joinPts(BAND_DV_HI, BAND_DV_HI_T, BAND_TAIL_T), joinPts(BAND_DV_LO, BAND_DV_LO_T, BAND_TAIL_T),
  'rgba(255,0,0,0.13)', 'rgba(255,0,0,0.18)', 2, 1));
series.push(bandSeries(joinPts(BAND_ER_HI, BAND_ER_HI_T, BAND_TAIL_T), joinPts(BAND_ER_LO, BAND_ER_LO_T, BAND_TAIL_T),
  'rgba(0,0,255,0.13)', 'rgba(0,0,255,0.18)', 2, 1));
series.push(roundSeries(2, 18));
series.push({
  type: 'line', name: NAME_T_DV, xAxisIndex: 2, yAxisIndex: 2, data: TRUTH_DV,
  symbol: 'none', silent: true, z: 3, color: '#ff0000',
  lineStyle: { color: '#ff0000', width: 2.6, opacity: 0.72 }
});
series.push({
  type: 'line', name: NAME_T_ER, xAxisIndex: 2, yAxisIndex: 2, data: TRUTH_ER,
  symbol: 'none', silent: true, z: 3, color: '#0000ff',
  lineStyle: { color: '#0000ff', width: 2.6, opacity: 0.72 }
});
series.push({
  type: 'line', name: NAME_P_DV, xAxisIndex: 2, yAxisIndex: 2, data: joinPts(PRED_DV, PRED_DV_T, PRED_TAIL_T),
  symbol: 'none', silent: true, z: 4, color: '#ff0000',
  lineStyle: { color: '#ff0000', width: 2.6, type: [2.4, 4], opacity: 0.6 }
});
series.push({
  type: 'line', name: NAME_P_ER, xAxisIndex: 2, yAxisIndex: 2, data: joinPts(PRED_ER, PRED_ER_T, PRED_TAIL_T),
  symbol: 'none', silent: true, z: 4, color: '#0000ff',
  lineStyle: { color: '#0000ff', width: 2.6, type: [2.4, 4], opacity: 0.6 }
});

const GRIDS = [
  { left: 93, right: 22, top: 51, height: 470 },
  { left: 93, right: 22, top: 580, height: 467 },
  { left: 93, right: 22, top: 1106, height: 311 }
];

const probAxis = gi => ({
  type: 'value', gridIndex: gi, min: 0, max: 1.15, interval: 0.05,
  axisLine: { show: false },
  axisTick: { show: true, length: 5, lineStyle: { color: '#222' } },
  axisLabel: { formatter: v => v.toFixed(2), fontSize: 14, color: '#222', margin: 14, fontFamily: FONT },
  splitLine: { show: true, lineStyle: { color: '#e2e2e2', width: 1 } },
  name: 'Prob', nameLocation: 'middle', nameGap: 62,
  nameTextStyle: { fontSize: 14, color: '#111', fontFamily: FONT }
});

const topLegend = (top) => ({
  data: ['under 4.5', 'under 10.5', 'under 16.5', 'under 22.5', 'under 7.5', 'under 13.5', 'under 19.5']
    .map(n => ({ name: n, icon: 'rect' })),
  left: 1574, top: top, width: 505, orient: 'horizontal',
  itemWidth: 27, itemHeight: 2.5, itemGap: 6, padding: [4, 5],
  backgroundColor: 'rgba(255,255,255,0.8)', borderColor: '#cccccc', borderWidth: 1, borderRadius: 3,
  selectedMode: false,
  textStyle: { fontSize: 12, fontFamily: FONT, color: '#222', width: 87, lineHeight: 14 }
});

const option = {
  animation: false,
  backgroundColor: '#ffffff',
  textStyle: { fontFamily: FONT },
  graphic: [
    { type: 'text', x: 1086, y: 31, silent: true,
      style: { text: TITLE_DV, fontSize: 21.5, fontFamily: FONT, fill: '#000', align: 'center', verticalAlign: 'middle' } },
    { type: 'text', x: 1086, y: 558, silent: true,
      style: { text: TITLE_ER, fontSize: 21.5, fontFamily: FONT, fill: '#000', align: 'center', verticalAlign: 'middle' } }
  ],
  grid: GRIDS.map(g => Object.assign({ show: true, borderColor: '#222', borderWidth: 1.3, backgroundColor: 'transparent' }, g)),
  xAxis: [0, 1, 2].map(gi => ({
    type: 'value', gridIndex: gi, min: -90, max: 1890,
    axisLine: { show: false },
    axisTick: { show: true, length: 5, lineStyle: { color: '#222' }, customValues: X_TICKS },
    axisLabel: { show: gi === 2, customValues: X_TICKS, formatter: v => String(v),
                 fontSize: 14, color: '#222', margin: 10, fontFamily: FONT },
    splitLine: { show: false },
    name: gi === 2 ? 'Fight time (seconds)' : '',
    nameLocation: 'middle', nameGap: 42,
    nameTextStyle: { fontSize: 21, color: '#111', fontFamily: FONT }
  })),
  yAxis: [
    probAxis(0),
    probAxis(1),
    {
      type: 'value', gridIndex: 2, min: -0.95, max: 20.45,
      axisLine: { show: false },
      axisTick: { show: true, length: 5, lineStyle: { color: '#222' }, customValues: COUNT_TICKS },
      axisLabel: { customValues: COUNT_TICKS, formatter: v => v.toFixed(1), fontSize: 14, color: '#222', margin: 14, fontFamily: FONT },
      splitLine: { show: true, lineStyle: { color: '#e2e2e2', width: 1 } },
      name: 'Count', nameLocation: 'middle', nameGap: 62,
      nameTextStyle: { fontSize: 14, color: '#111', fontFamily: FONT }
    }
  ],
  legend: [
    topLegend(58),
    topLegend(585),
    {
      data: [
        { name: NAME_T_DV, icon: 'rect', itemStyle: { opacity: 0.75 } },
        { name: NAME_T_ER, icon: 'rect', itemStyle: { opacity: 0.75 } },
        { name: NAME_P_DV, icon: DOTS_ICON, itemStyle: { opacity: 0.6 } },
        { name: NAME_P_ER, icon: DOTS_ICON, itemStyle: { opacity: 0.6 } }
      ],
      left: 99, top: 1112, orient: 'vertical',
      itemWidth: 30, itemHeight: 3, itemGap: 5.5, padding: [7, 8],
      backgroundColor: 'rgba(255,255,255,0.8)', borderColor: '#cccccc', borderWidth: 1, borderRadius: 3,
      selectedMode: false,
      textStyle: { fontSize: 14, fontFamily: FONT, color: '#222', lineHeight: 17 }
    }
  ],
  series: series
};

const chart = echarts.init(document.getElementById('chart'), null, { renderer: 'canvas' });
chart.setOption(option);
</script>
</body>
</html>
